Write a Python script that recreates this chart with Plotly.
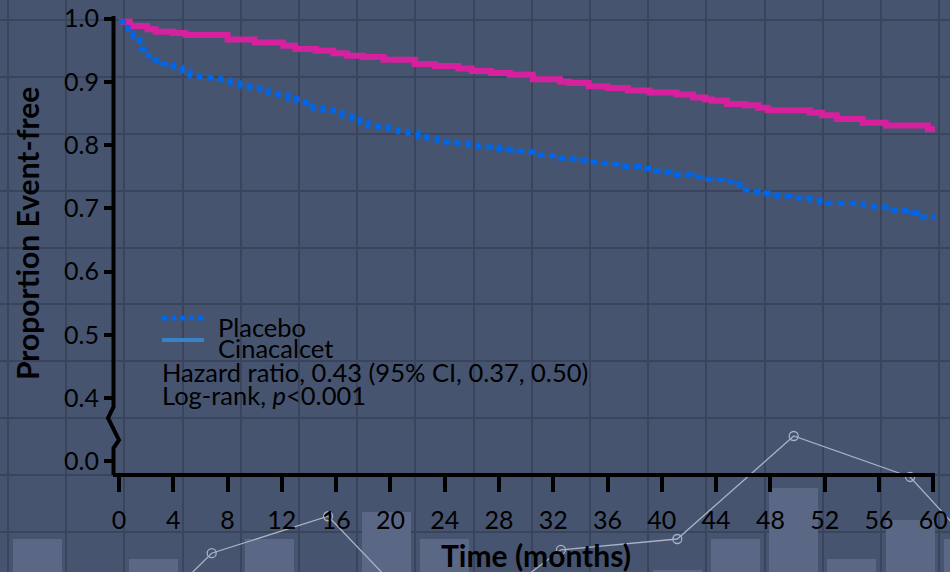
import plotly.graph_objects as go

# ---------------- Data ----------------
# Kaplan-Meier step points (months, proportion event-free)
cina_t = [0, 0.8, 2.1, 2.7, 4.0, 4.9, 8.0, 10.0, 12.1, 13.0, 14.5, 15.8, 16.8, 18.0, 19.5,
          21.8, 23.3, 25.0, 26.0, 27.4, 28.8, 30.5, 32.5, 33.2, 34.6, 36.0, 37.5, 39.1,
          41.1, 42.3, 43.2, 43.7, 44.8, 46.1, 47.1, 47.8, 50.9, 51.8, 52.9, 54.8, 56.5,
          59.6, 60.3]
cina_s = [0.995, 0.988, 0.983, 0.979, 0.977, 0.974, 0.967, 0.962, 0.957, 0.952, 0.949, 0.945,
          0.941, 0.939, 0.935, 0.928, 0.925, 0.921, 0.917, 0.914, 0.911, 0.904, 0.900, 0.898,
          0.893, 0.890, 0.886, 0.883, 0.880, 0.875, 0.872, 0.870, 0.865, 0.863, 0.859, 0.855,
          0.851, 0.847, 0.841, 0.835, 0.831, 0.825, 0.825]

plac_t = [0, 0.66, 1.03, 1.55, 2.14, 2.65, 3.24, 3.98, 4.64, 5.23, 5.97, 6.71, 7.45, 8.18,
          8.92, 9.66, 10.39, 10.98, 11.72, 12.46, 13.12, 13.71, 14.30, 15.04, 15.77, 16.44,
          17.18, 17.76, 18.35, 19.09, 19.83, 20.56, 21.30, 22.04, 22.70, 23.44, 24.18, 25.73,
          26.46, 27.94, 28.67, 29.41, 30.29, 31.03, 31.62, 32.36, 33.09, 33.98, 34.72, 35.45,
          36.19, 36.93, 38.55, 39.29, 40.02, 40.61, 42.23, 42.97, 43.71, 44.44, 45.18, 45.77,
          46.51, 47.10, 47.84, 48.57, 49.46, 50.20, 50.93, 51.67, 54.84, 55.58, 57.05, 57.79,
          58.45, 59.19, 60.29]
plac_s = [0.995, 0.977, 0.966, 0.952, 0.941, 0.934, 0.928, 0.923, 0.917, 0.909, 0.907, 0.906,
          0.903, 0.898, 0.893, 0.890, 0.888, 0.882, 0.879, 0.873, 0.868, 0.867, 0.858, 0.855,
          0.853, 0.846, 0.841, 0.836, 0.830, 0.829, 0.825, 0.821, 0.819, 0.813, 0.811, 0.806,
          0.803, 0.800, 0.797, 0.794, 0.792, 0.790, 0.789, 0.784, 0.783, 0.779, 0.778, 0.776,
          0.773, 0.771, 0.770, 0.766, 0.763, 0.759, 0.757, 0.753, 0.749, 0.746, 0.745, 0.742,
          0.738, 0.729, 0.727, 0.724, 0.721, 0.719, 0.717, 0.716, 0.713, 0.708, 0.704, 0.702,
          0.697, 0.696, 0.693, 0.686, 0.686]

# Y axis with a break: 0.0 is displayed one interval below 0.4
y_tickvals = [0.3, 0.4, 0.5, 0.6, 0.7, 0.8, 0.9, 1.0]
y_ticktext = ["0.0", "0.4", "0.5", "0.6", "0.7", "0.8", "0.9", "1.0"]
x_tickvals = list(range(0, 61, 4))

# Decorative background chart (grid-cell units)
bg_bar_cells = [0, 2, 4, 6, 7, 11, 12, 13, 14, 15, 16]
bg_bar_heights = [0.58, 0.23, 0.58, 1.05, 0.58, 0.04, 0.58, 1.48, 0.23, 0.91, 0.58]
bg_line_cells = [1, 3, 5, 7, 9, 11, 13, 15, 17]
bg_line_vals = [-1.7, 0.33, 0.98, -1.16, 0.39, 0.58, 2.39, 1.67, -0.56]

# ---------------- Styling ----------------
W, H = 950, 572
BG = "rgb(70,84,112)"
GRID = "rgb(57,68,93)"
BAR = "rgb(90,103,133)"
BGLINE = "rgb(170,178,196)"
MAGENTA = "rgb(214,32,158)"
BLUE = "rgb(0,102,232)"
LEG_CINA = "rgb(58,130,200)"
FONT = "Lato"

fig = go.Figure()

# background decoration (subplot x/y, drawn first)
fig.add_trace(go.Bar(x=bg_bar_cells, y=bg_bar_heights, width=0.84, marker_color=BAR,
                     marker_line_width=0, xaxis="x", yaxis="y", showlegend=False,
                     hoverinfo="skip"))
fig.add_trace(go.Scatter(x=bg_line_cells, y=bg_line_vals, mode="lines+markers",
                         line=dict(color=BGLINE, width=1.3),
                         marker=dict(symbol="circle-open", size=9, color=BGLINE,
                                     line=dict(width=1.3)),
                         xaxis="x", yaxis="y", showlegend=False, hoverinfo="skip"))

# KM curves (main subplot x2/y2)
fig.add_trace(go.Scatter(x=cina_t, y=cina_s, mode="lines", line_shape="hv",
                         line=dict(color=MAGENTA, width=6), name="Cinacalcet",
                         xaxis="x2", yaxis="y2", showlegend=False))
fig.add_trace(go.Scatter(x=plac_t, y=plac_s, mode="lines", line_shape="hv",
                         line=dict(color=BLUE, width=5, dash="7px,5px"), name="Placebo",
                         xaxis="x2", yaxis="y2", showlegend=False))

xl, xr = 113, 935
yt, yb = 17, 473
x_lo, x_hi = -0.442, 60.13
y_lo, y_hi = 0.2814, 1.0024


def fx(p):
    return p / W


def fy(p):
    return 1 - p / H


# broken y-axis line (paper coordinates so it is not clipped)
ax0 = 113.5
path = (f"M {fx(ax0)},{fy(16)} L {fx(ax0)},{fy(407)} L {fx(108)},{fy(418)} "
        f"L {fx(119)},{fy(440)} L {fx(ax0)},{fy(448)} L {fx(ax0)},{fy(475)}")

shapes = [
    dict(type="path", path=path, xref="paper", yref="paper",
         line=dict(color="black", width=4)),
    # legend keys
    dict(type="line", xref="paper", yref="paper", x0=fx(162), x1=fx(204),
         y0=fy(318), y1=fy(318), line=dict(color=BLUE, width=5, dash="5px,4px")),
    dict(type="line", xref="paper", yref="paper", x0=fx(162), x1=fx(204),
         y0=fy(340), y1=fy(340), line=dict(color=LEG_CINA, width=4)),
]


def ann(text, x, y, size=25.5, xanchor="left", angle=0):
    return dict(text=text, x=fx(x), y=fy(y), xref="paper", yref="paper",
                xanchor=xanchor, yanchor="middle", showarrow=False, textangle=angle,
                font=dict(family=FONT, size=size, color="black"))


annotations = [
    ann("Placebo", 216, 327),
    ann("Cinacalcet", 216, 348),
    ann("Hazard ratio, 0.43 (95% CI, 0.37, 0.50)", 160, 372),
    ann("Log-rank, <i>p</i>&lt;0.001", 160, 395),
    ann("<b>Proportion Event-free</b>", 27, 234, size=30, xanchor="center", angle=-90),
    ann("<b>Time (months)</b>", 536, 555, size=30, xanchor="center"),
]

fig.update_layout(
    width=W, height=H,
    margin=dict(l=0, r=0, t=0, b=0, autoexpand=False),
    paper_bgcolor=BG, plot_bgcolor="rgba(0,0,0,0)",
    bargap=0, showlegend=False,
    xaxis=dict(domain=[0, 1], range=[-0.637, 15.685], showgrid=True, tick0=-0.5, dtick=1,
               gridcolor=GRID, gridwidth=2, showticklabels=False, zeroline=False,
               showline=False, ticks="", fixedrange=True, automargin=False),
    yaxis=dict(domain=[0, 1], range=[0, H / 56.9], showgrid=True, tick0=0.703, dtick=1,
               gridcolor=GRID, gridwidth=2, showticklabels=False, zeroline=False,
               showline=False, ticks="", fixedrange=True, automargin=False),
    xaxis2=dict(domain=[xl / W, xr / W], range=[x_lo, x_hi], anchor="y2",
                tickvals=x_tickvals, ticks="outside", ticklen=15, tickwidth=4,
                tickcolor="black", showline=True, linecolor="black", linewidth=4,
                showgrid=False, zeroline=False, ticklabelstandoff=7, automargin=False,
                fixedrange=True,
                tickfont=dict(family=FONT, size=25, color="black")),
    yaxis2=dict(domain=[1 - yb / H, 1 - yt / H], range=[y_lo, y_hi], anchor="x2",
                tickvals=y_tickvals, ticktext=y_ticktext, ticks="outside", ticklen=8,
                tickwidth=4, tickcolor="black", showline=False, showgrid=False,
                zeroline=False, automargin=False, fixedrange=True,
                tickfont=dict(family=FONT, size=25, color="black")),
    shapes=shapes,
    annotations=annotations,
)

fig.write_html(
    "out.html",
    config={"displayModeBar": False},
    post_script="document.body.style.margin='0';document.body.style.overflow='hidden';"
                "document.documentElement.style.overflow='hidden';",
)
